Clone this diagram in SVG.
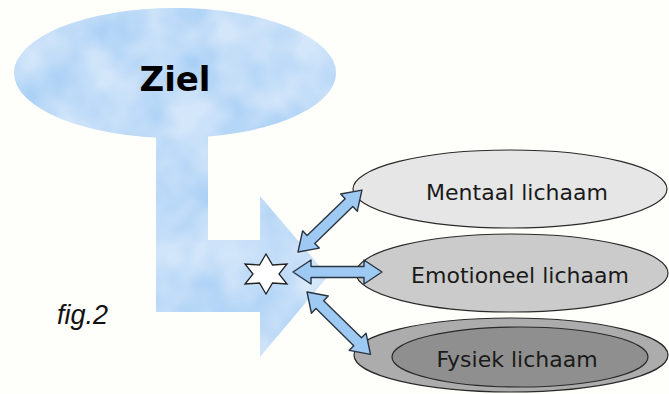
<svg xmlns="http://www.w3.org/2000/svg" xmlns:xlink="http://www.w3.org/1999/xlink" width="669" height="394" viewBox="0 0 669 394">
  <defs>
    <filter id="cloud" x="0" y="0" width="100%" height="100%" color-interpolation-filters="sRGB">
      <feTurbulence type="fractalNoise" baseFrequency="0.018" numOctaves="3" seed="7" result="n"/>
      <feColorMatrix in="n" type="matrix" values="0 0 0 0 0.64  0 0 0 0 0.80  0 0 0 0 0.96  1.8 0 0 0 -0.55" result="c"/>
      <feComposite in="c" in2="SourceGraphic" operator="in" result="m"/>
      <feMerge><feMergeNode in="SourceGraphic"/><feMergeNode in="m"/></feMerge>
    </filter>
    <linearGradient id="fade" x1="0" y1="0" x2="1" y2="0">
      <stop offset="0" stop-color="#d3e6fa"/>
      <stop offset="0.75" stop-color="#d0e4f9"/>
      <stop offset="1" stop-color="#e6f1fc"/>
    </linearGradient>
    <path id="dbl" d="M0,0 L18,-12 L18,-5.5 L71,-5.5 L71,-12 L89,0 L71,12 L71,5.5 L18,5.5 L18,12 Z"/>
    <style>
      .body { stroke: #2a2a2a; stroke-width: 1.2; }
      .lbl { font-family: "DejaVu Sans", Verdana, sans-serif; font-size: 22px; fill: #1a1a1a; text-anchor: middle; }
      .conn use { fill: #9ec9f3; stroke: #2a3440; stroke-width: 1.4; stroke-linejoin: round; }
    </style>
  </defs>

  <rect width="669" height="394" fill="#fefefa"/>

  <g id="flow-arrow">
    <polygon points="156,128 208,128 208,240 260,240 260,196 328,276 260,357 260,312 156,312" fill="url(#fade)" filter="url(#cloud)"/>
  </g>

  <g id="ziel">
    <ellipse cx="175" cy="73" rx="161" ry="65" fill="#d3e6fa" filter="url(#cloud)"/>
    <text x="175" y="91" font-family="'DejaVu Sans', Verdana, sans-serif" font-weight="bold" font-size="34" text-anchor="middle" fill="#000">Ziel</text>
  </g>

  <g id="mentaal">
    <ellipse class="body" cx="510" cy="189" rx="157" ry="39" fill="#e6e6e6"/>
    <text class="lbl" x="517" y="200">Mentaal lichaam</text>
  </g>

  <g id="emotioneel">
    <ellipse class="body" cx="512" cy="273" rx="156" ry="39" fill="#cbcbcb"/>
    <text class="lbl" x="520" y="283">Emotioneel lichaam</text>
  </g>

  <g id="fysiek">
    <ellipse class="body" cx="511" cy="355" rx="157" ry="37" fill="#acacac"/>
    <ellipse class="body" cx="520" cy="357" rx="128" ry="30" fill="#8f8f8f"/>
    <text class="lbl" x="517" y="367">Fysiek lichaam</text>
  </g>

  <g id="star">
    <polygon points="266,254 272.5,265 287,264 279,274 287,284 272.5,283 266,294 259.5,283 245,284 253,274 245,264 259.5,265" fill="#ffffff" stroke="#222" stroke-width="1.3" stroke-linejoin="miter"/>
  </g>

  <g id="connectors" class="conn">
    <use xlink:href="#dbl" href="#dbl" transform="translate(298,252) rotate(-44.1)"/>
    <use xlink:href="#dbl" href="#dbl" transform="translate(293,272)"/>
    <use xlink:href="#dbl" href="#dbl" transform="translate(307,292) rotate(44.5)"/>
  </g>

  <text x="57" y="324" font-family="'Liberation Sans', Arial, sans-serif" font-style="italic" font-size="27" fill="#111">fig.2</text>
</svg>
